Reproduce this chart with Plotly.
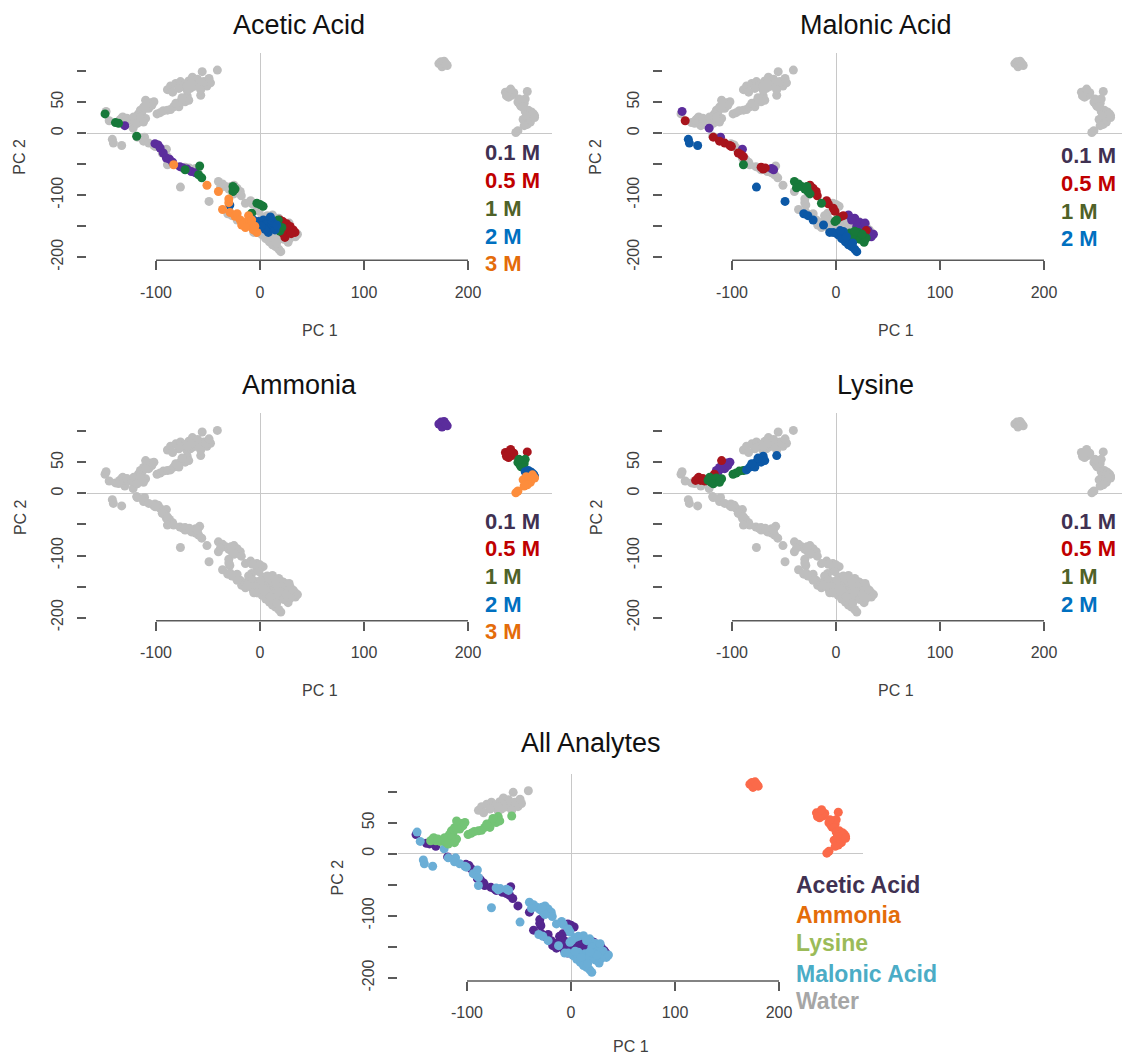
import plotly.graph_objects as go

W, H = 1122, 1057          # reference picture size
FIG_H = 1068               # figure height used for the page

# ---------------- data (PC1, PC2) ----------------
acetic_01 = [(-130, 12), (-101, -17), (-98, -19), (-96, -24), (-93, -32), (-90, -40), (-87, -42),
             (-84, -47), (-77, -54), (-74, -56), (-70, -58), (-66, -62), (-62, -64)]
acetic_05 = [(19, -140), (22, -142.5), (25.6, -146), (29, -150.5), (32, -156), (33.7, -160),
             (22, -161), (24, -168), (21, -159), (27, -153), (30, -162), (18, -150)]
acetic_1 = [(-149, 31), (-139, 17), (-136, 16), (-118.6, -5), (-58, -53), (-59, -67), (-56, -72),
            (-72, -59), (-26, -86), (-26, -94), (-24, -90), (-3, -113), (3, -118), (0, -115),
            (-8, -129), (17.6, -140), (19, -158), (21, -152)]
acetic_2 = [(-29, -116), (-6.4, -140), (-1.6, -142.5), (3.2, -140), (6.4, -146), (9.6, -152),
            (12.8, -145), (8, -160), (14.4, -156), (4.8, -155), (11, -140), (16, -148), (1, -150), (10, -135)]
acetic_3 = [(-83, -51), (-51, -84), (-40, -94), (-30, -106), (-30, -112), (-36, -123), (-28.8, -128),
            (-24, -134), (-22, -130), (-19, -140), (-14.4, -144), (-11, -149), (-6.4, -156), (-3, -160),
            (-11, -133), (-8, -140), (-17.6, -148), (-14, -152), (-5, -150)]

malonic_01 = [(-148, 35), (-122, 8), (-111, -6.5), (-90, -26), (-62, -57), (-60, -59), (12, -132),
              (18, -137), (23, -144), (26, -150.5), (31, -157), (34, -167), (20, -150), (25, -158),
              (36, -163), (15, -140), (28, -145)]
malonic_05 = [(-145, 20), (-118, -6.5), (-112, -13), (-107, -16), (-102, -20), (-100.6, -21.5),
              (-94, -32), (-91, -35), (-89, -38), (-72, -55), (-70, -58), (-68, -56), (-25, -84),
              (-22, -89), (-19, -94), (-18, -101), (-9, -109), (-7.4, -114), (-2.6, -121), (-1, -126),
              (4, -135), (7, -133), (29, -157)]
malonic_1 = [(-89, -51), (-40, -78), (-36, -82), (-33, -86), (-30, -90), (-27, -94), (-25, -98),
             (-28, -86), (-38, -88), (-14, -113), (-1, -142.5), (0.6, -140), (13.5, -161), (17, -164),
             (20, -167), (23, -171), (27, -176), (29, -169), (21.5, -160), (15, -169), (25, -163), (18, -158)]
malonic_2 = [(-142, -10), (-141, -16), (-133, -20), (-76.5, -87), (-49, -110), (-31, -130), (-27, -133),
             (-22, -140), (-12, -148), (-6, -160), (2, -164), (5.5, -170), (9, -175), (12, -180),
             (15, -183), (18, -187), (20, -191), (7, -158.6), (-2.6, -160), (10, -167), (16, -177), (4, -157)]

ammonia_01 = [(172, 112), (174, 115), (176, 110), (178, 113), (180, 109), (175, 107), (177, 116), (179, 111)]
ammonia_05 = [(236, 66), (238, 63), (240, 68), (242, 61), (239, 58), (244, 65), (237, 60), (241, 71), (257, 67)]
ammonia_1 = [(248, 50), (250, 46), (252, 53), (254, 48), (251, 43), (255, 55), (253, 42), (249, 55)]
ammonia_2 = [(255, 35), (258, 37), (261, 34), (263, 31), (257, 30), (264, 28)]
ammonia_3 = [(253, 22), (256, 27), (259, 24), (262, 30), (260, 18), (257, 14), (264, 25), (254, 12),
             (248, 4), (246, 1)]

lysine_01 = [(-115, 37), (-112, 42), (-109, 45), (-105, 49), (-102, 50.5), (-113.5, 34), (-107, 40),
             (-104, 45), (-110, 40)]
lysine_05 = [(-133, 24), (-130, 21), (-135, 21), (-132, 26), (-126, 20), (-117, 31), (-118, 27),
             (-110, 53), (-128, 24)]
lysine_1 = [(-123, 21), (-120, 18), (-117, 21), (-113.5, 22), (-110, 23.7), (-121.5, 26), (-115, 25),
            (-118, 15.6), (-112, 18), (-99, 31), (-96, 33), (-93, 36), (-89, 37)]
lysine_2 = [(-86, 38), (-83, 42.5), (-80, 47), (-76.5, 50.5), (-73, 54), (-70, 60), (-72, 50.5),
            (-78, 42.5), (-68.5, 53), (-57, 61), (-81, 48), (-75, 57)]

water = [(-89, 70), (-86, 76), (-81, 80), (-76.5, 83), (-72, 79), (-68.5, 84), (-65, 90), (-62, 81),
         (-55.6, 99), (-51, 76), (-47.6, 81), (-41, 101.6), (-70, 69), (-67, 72), (-59, 75), (-75, 75),
         (-64, 75), (-54, 83), (-60, 87), (-78, 72), (-66, 80), (-57, 70), (-49, 88), (-84, 66), (-70, 76)]

conc_labels = ["0.1 M", "0.5 M", "1 M", "2 M", "3 M"]
analyte_names = ["Acetic Acid", "Ammonia", "Lysine", "Malonic Acid", "Water"]
x_ticks = [-100, 0, 100, 200]
x_ticktext = ["-100", "0", "100", "200"]
y_ticks = [100, 50, 0, -50, -100, -150, -200]
y_ticktext = ["", "50", "0", "", "-100", "", "-200"]

# ---------------- styles ----------------
point_colors = ["#5b2d9c", "#a8141c", "#17793a", "#0c58a6", "#fd8d3c"]
legend_colors = ["#403152", "#c00000", "#4f6228", "#0070c0", "#e46c0a"]
all_point_colors = {"Acetic Acid": "#54278f", "Ammonia": "#fb6a4a", "Lysine": "#74c476",
                    "Malonic Acid": "#6baed6", "Water": "#bebebe"}
all_legend_colors = {"Acetic Acid": "#403152", "Ammonia": "#e46c0a", "Lysine": "#9bbb59",
                     "Malonic Acid": "#4bacc6", "Water": "#a6a6a6"}
GRAY = "#bebebe"
FONT = "Liberation Sans, Arial, sans-serif"
AXC = "#5a5a5a"
TXC = "#404040"
MS = 9

groups = {
    "Acetic Acid": [acetic_01, acetic_05, acetic_1, acetic_2, acetic_3],
    "Malonic Acid": [malonic_01, malonic_05, malonic_1, malonic_2],
    "Ammonia": [ammonia_01, ammonia_05, ammonia_1, ammonia_2, ammonia_3],
    "Lysine": [lysine_01, lysine_05, lysine_1, lysine_2],
    "Water": [water],
}

SX, SY = 1.04, 0.62
XMIN, XMAX, YMIN, YMAX = -166, 281, -205, 129

# panel: (key, title, zero-x px, zero-y px, title px, legend left px, legend y px list, ylabel x px, xlabel dy)
panels = [
    ("Acetic Acid", "Acetic Acid", 260, 133, (299, 25), 483, [152, 180, 208, 236, 263], 20, 197),
    ("Malonic Acid", "Malonic Acid", 836, 133, (876, 25), 1059, [155, 183, 211, 238], 596, 197),
    ("Ammonia", "Ammonia", 260, 493, (299, 385), 483, [521, 548, 576, 604, 631], 20, 197),
    ("Lysine", "Lysine", 836, 493, (875, 385), 1059, [521, 548, 576, 604], 596, 197),
    ("All", "All Analytes", 571, 853, (591, 742), 794, [884, 914, 942, 973, 1000], 337, 193),
]

fig = go.Figure()
layout = dict(width=W, height=FIG_H, margin=dict(l=0, r=0, t=0, b=0), paper_bgcolor="white",
              plot_bgcolor="white", showlegend=False, annotations=[], shapes=[])


def px(x):
    return x / W


def py(y):
    return 1 - y / H


def add_pts(pts, color, xa, ya):
    fig.add_trace(go.Scatter(x=[p[0] for p in pts], y=[p[1] for p in pts], mode="markers",
                             marker=dict(size=MS, color=color, line=dict(width=0)),
                             xaxis=xa, yaxis=ya, hoverinfo="skip"))


for i, (key, title, x0, y0, tpos, lx, lys, ylx, xdy) in enumerate(panels, start=1):
    sfx = "" if i == 1 else str(i)
    xa, ya = "x" + sfx, "y" + sfx
    left = x0 + XMIN * SX
    right = x0 + XMAX * SX
    xmax = XMAX
    if right > W:
        right = W
        xmax = (W - x0) / SX
    top = y0 - YMAX * SY
    bottom = y0 - YMIN * SY

    layout["xaxis" + sfx] = dict(domain=[px(left), px(right)], range=[XMIN, xmax], anchor=ya,
                                 showgrid=False, showline=False, zeroline=True,
                                 zerolinecolor="#c8c8c8", zerolinewidth=1,
                                 tickmode="array", tickvals=x_ticks, ticktext=x_ticktext,
                                 ticks="outside", ticklen=9,
                                 tickwidth=1.5, tickcolor=AXC, ticklabelstandoff=8,
                                 tickfont=dict(family=FONT, size=16, color=TXC), fixedrange=True)
    layout["yaxis" + sfx] = dict(domain=[py(bottom), py(top)], range=[YMIN, YMAX], anchor=xa,
                                 showgrid=False, showline=False, zeroline=True,
                                 zerolinecolor="#c8c8c8", zerolinewidth=1,
                                 tickmode="array", tickvals=y_ticks, ticktext=y_ticktext,
                                 ticks="outside", ticklen=9, tickwidth=1.5, tickcolor=AXC,
                                 tickangle=-90, ticklabelstandoff=8,
                                 tickfont=dict(family=FONT, size=16, color=TXC), fixedrange=True)
    layout["shapes"].append(dict(type="line", xref=xa, yref=ya + " domain", x0=x_ticks[0],
                                 x1=x_ticks[-1], y0=0, y1=0, line=dict(color=AXC, width=1.5)))

    if key != "All":
        for other, lists in groups.items():
            if other == key:
                continue
            for pts in lists:
                add_pts(pts, GRAY, xa, ya)
        for j, pts in enumerate(groups[key]):
            add_pts(pts, point_colors[j], xa, ya)
        for j, yy in enumerate(lys):
            layout["annotations"].append(dict(
                x=px(lx), y=py(yy), xref="paper", yref="paper", text="<b>%s</b>" % conc_labels[j],
                showarrow=False, xanchor="left", yanchor="middle",
                font=dict(family=FONT, size=22, color=legend_colors[j])))
    else:
        order = ["Water", "Acetic Acid", "Malonic Acid", "Lysine", "Ammonia"]
        for name in order:
            merged = [p for lst in groups[name] for p in lst]
            add_pts(merged, all_point_colors[name], xa, ya)
        for j, yy in enumerate(lys):
            name = analyte_names[j]
            layout["annotations"].append(dict(
                x=px(lx), y=py(yy), xref="paper", yref="paper", text="<b>%s</b>" % name,
                showarrow=False, xanchor="left", yanchor="middle",
                font=dict(family=FONT, size=23, color=all_legend_colors[name])))

    # title
    layout["annotations"].append(dict(x=px(tpos[0]), y=py(tpos[1]), xref="paper", yref="paper",
                                      text=title, showarrow=False, xanchor="center", yanchor="middle",
                                      font=dict(family=FONT, size=27, color="#111111")))
    # axis titles
    cx = (x0 + XMIN * SX + x0 + XMAX * SX) / 2
    layout["annotations"].append(dict(x=px(cx), y=py(y0 + xdy), xref="paper", yref="paper",
                                      text="PC 1", showarrow=False, xanchor="center", yanchor="middle",
                                      font=dict(family=FONT, size=16, color=TXC)))
    layout["annotations"].append(dict(x=px(ylx), y=py((top + bottom) / 2), xref="paper",
                                      yref="paper", text="PC 2", showarrow=False, textangle=-90,
                                      xanchor="center", yanchor="middle",
                                      font=dict(family=FONT, size=16, color=TXC)))

fig.update_layout(**layout)
fig.write_html("out.html", config={"displayModeBar": False},
               post_script="document.body.style.margin='0';")
